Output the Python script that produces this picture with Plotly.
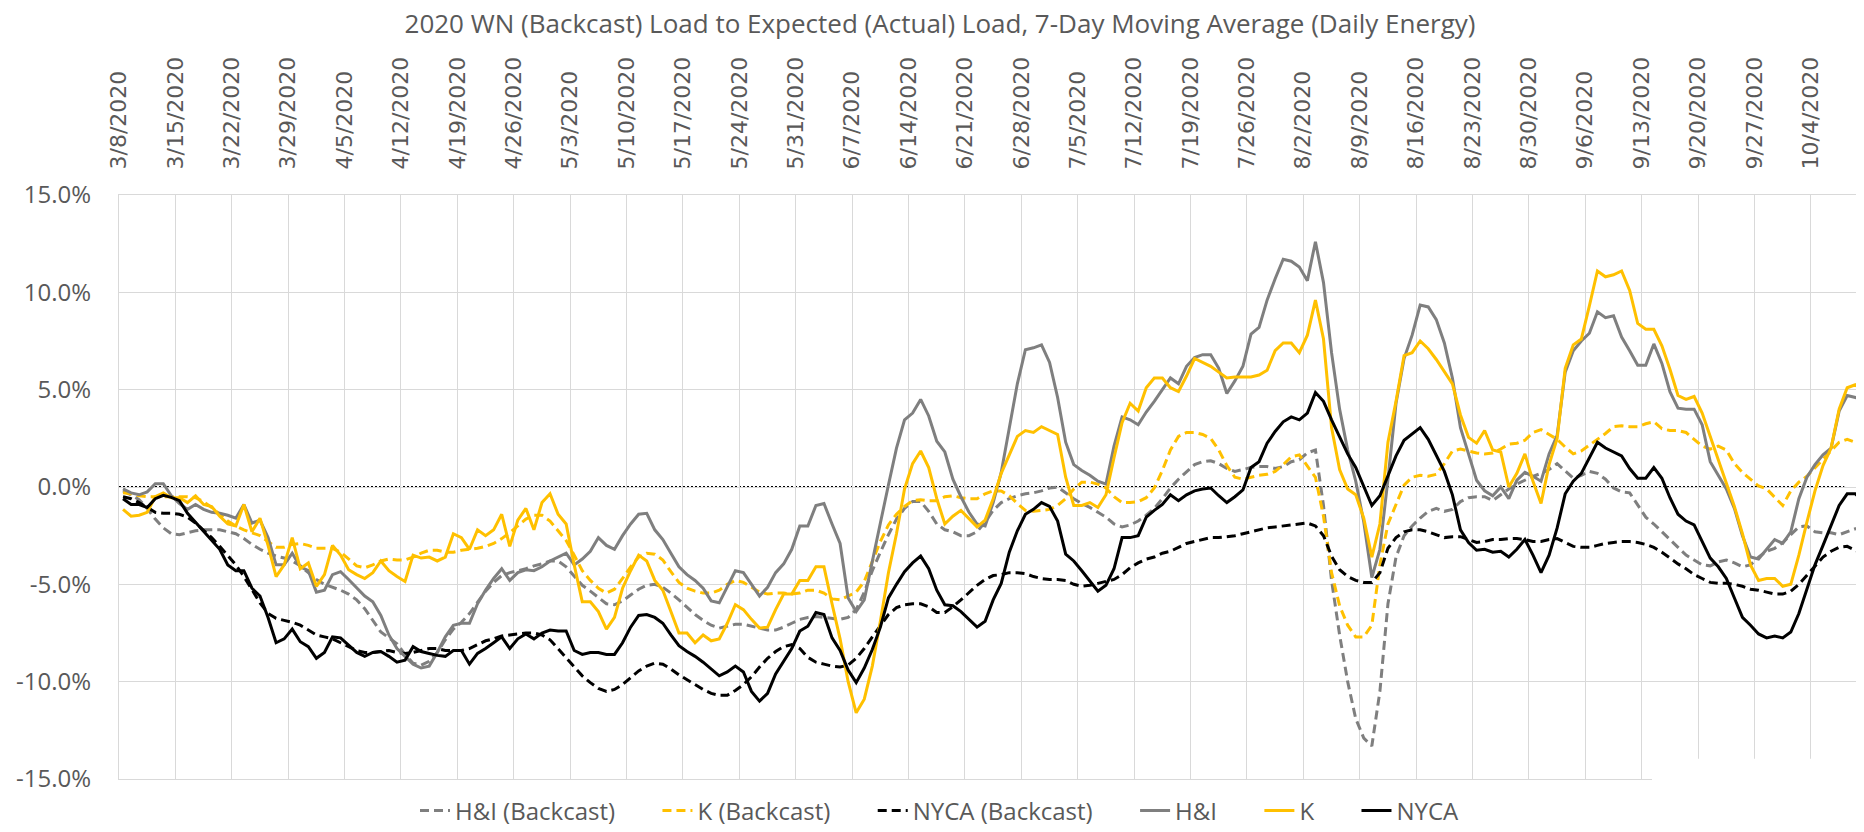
import pandas as pd
import plotly.graph_objects as go

TITLE = "2020 WN (Backcast) Load to Expected (Actual) Load, 7-Day Moving Average (Daily Energy)"

# daily dates 3/8/2020 .. 10/10/2020
DATES = pd.date_range("2020-03-08", periods=217, freq="D")

Y_TICKS = [-15, -10, -5, 0, 5, 10, 15]
Y_TICK_LABELS = ["-15.0%", "-10.0%", "-5.0%", "0.0%", "5.0%", "10.0%", "15.0%"]

HI_BACKCAST = [
    -0.2, -0.4, -0.65, -1.1, -1.65, -2.1, -2.4, -2.45, -2.35, -2.25,
    -2.2, -2.2, -2.2, -2.3, -2.4, -2.65, -2.95, -3.2, -3.4, -3.55,
    -3.65, -3.8, -4.05, -4.4, -4.75, -5.0, -5.15, -5.3, -5.5, -5.8,
    -6.25, -6.85, -7.45, -7.75, -8.05, -8.6, -9.05, -9.15, -8.95, -8.5,
    -7.85, -7.3, -6.95, -6.5, -5.9, -5.35, -4.9, -4.55, -4.4, -4.3,
    -4.2, -4.05, -3.95, -3.8, -3.8, -4.1, -4.6, -5.05, -5.35, -5.7,
    -6.0, -6.05, -5.85, -5.55, -5.25, -5.05, -5.0, -5.15, -5.45, -5.8,
    -6.2, -6.55, -6.85, -7.1, -7.25, -7.15, -7.05, -7.05, -7.15, -7.25,
    -7.35, -7.35, -7.2, -7.0, -6.8, -6.7, -6.65, -6.7, -6.75, -6.8,
    -6.7, -6.3, -5.4, -4.3, -3.35, -2.45, -1.65, -1.1, -0.75, -0.75,
    -1.25, -1.9, -2.2, -2.3, -2.5, -2.5, -2.3, -1.8, -1.2, -0.8,
    -0.6, -0.45, -0.35, -0.3, -0.2, -0.05, 0.0, -0.3, -0.6, -0.85,
    -1.05, -1.3, -1.55, -1.9, -2.05, -1.95, -1.75, -1.45, -1.1, -0.6,
    -0.05, 0.4, 0.8, 1.15, 1.3, 1.35, 1.2, 0.95, 0.8, 0.9,
    1.0, 1.05, 1.05, 0.95, 1.05, 1.3, 1.4, 1.75, 1.9, -0.95,
    -4.8, -7.6, -10.0, -11.9, -12.9, -13.3, -10.5, -6.0, -3.6, -2.5,
    -2.0, -1.6, -1.25, -1.1, -1.25, -1.15, -0.75, -0.55, -0.5, -0.5,
    -0.7, -0.4, -0.1, 0.15, 0.35, 0.55, 0.7, 0.9, 1.2, 0.85,
    0.45, 0.6, 0.8, 0.7, 0.4, -0.05, -0.25, -0.3, -0.9, -1.55,
    -1.9, -2.3, -2.7, -3.15, -3.5, -3.75, -4.0, -4.05, -3.85, -3.75,
    -3.9, -4.1, -4.0, -3.6, -3.3, -3.15, -2.85, -2.45, -2.05, -2.0,
    -2.3, -2.35, -2.35, -2.45, -2.3, -2.15, -2.15,
]

K_BACKCAST = [
    -0.3, -0.35, -0.45, -0.5, -0.5, -0.5, -0.5, -0.5, -0.5, -0.55,
    -0.75, -1.05, -1.4, -1.75, -2.0, -2.2, -2.35, -2.5, -2.8, -3.1,
    -3.1, -2.95, -2.9, -3.0, -3.15, -3.15, -3.15, -3.35, -3.7, -4.05,
    -4.15, -4.0, -3.8, -3.7, -3.75, -3.75, -3.6, -3.4, -3.25, -3.25,
    -3.35, -3.35, -3.25, -3.2, -3.15, -3.05, -2.9, -2.65, -2.35, -2.0,
    -1.65, -1.45, -1.45, -1.75, -2.25, -2.75, -3.5, -4.3, -4.8, -5.2,
    -5.45, -5.25, -4.7, -4.1, -3.6, -3.4, -3.45, -3.75, -4.35, -4.9,
    -5.2, -5.35, -5.45, -5.45, -5.3, -5.0, -4.8, -4.9, -5.15, -5.4,
    -5.5, -5.45, -5.45, -5.5, -5.45, -5.3, -5.3, -5.45, -5.75, -5.8,
    -5.6, -5.4, -4.85, -3.85, -2.8, -1.95, -1.4, -1.0, -0.7, -0.65,
    -0.7, -0.7, -0.5, -0.45, -0.55, -0.6, -0.6, -0.35, -0.2, -0.2,
    -0.45, -0.85, -1.2, -1.25, -1.2, -1.15, -0.95, -0.6, -0.1, 0.25,
    0.25, 0.15, -0.05, -0.5, -0.8, -0.8, -0.75, -0.55, -0.05, 0.85,
    1.9, 2.6, 2.8, 2.8, 2.7, 2.5, 1.9, 1.1, 0.5, 0.4,
    0.5, 0.6, 0.65, 0.8, 1.15, 1.55, 1.65, 1.1, 0.5, -1.5,
    -4.4, -6.1, -7.1, -7.7, -7.7, -7.1, -4.0, -1.9, -0.9, 0.1,
    0.5, 0.6, 0.55, 0.65, 1.2, 1.85, 1.95, 1.85, 1.75, 1.7,
    1.75, 1.95, 2.2, 2.25, 2.4, 2.8, 2.95, 2.7, 2.45, 2.05,
    1.7, 1.85, 2.15, 2.45, 2.75, 3.1, 3.15, 3.1, 3.1, 3.25,
    3.35, 3.0, 2.9, 2.9, 2.8, 2.45, 2.1, 1.95, 2.1, 1.9,
    1.2, 0.75, 0.4, 0.05, -0.1, -0.5, -0.95, -0.2, 0.25, 0.55,
    1.0, 1.45, 1.9, 2.3, 2.45, 2.3, 2.1,
]

NYCA_BACKCAST = [
    -0.5, -0.6, -0.8, -1.05, -1.3, -1.35, -1.35, -1.4, -1.55, -1.85,
    -2.2, -2.6, -3.05, -3.5, -4.0, -4.6, -5.25, -5.95, -6.5, -6.75,
    -6.85, -6.95, -7.1, -7.35, -7.6, -7.7, -7.8, -8.0, -8.2, -8.4,
    -8.5, -8.5, -8.45, -8.4, -8.5, -8.55, -8.5, -8.4, -8.3, -8.3,
    -8.4, -8.4, -8.4, -8.3, -8.1, -7.9, -7.8, -7.65, -7.6, -7.55,
    -7.5, -7.5, -7.6, -7.85, -8.3, -8.8, -9.25, -9.7, -10.05, -10.35,
    -10.5, -10.4, -10.15, -9.8, -9.45, -9.2, -9.05, -9.1, -9.35, -9.65,
    -9.9, -10.15, -10.4, -10.6, -10.7, -10.7, -10.45, -10.15, -9.75, -9.25,
    -8.8, -8.45, -8.2, -8.1, -8.3, -8.75, -9.0, -9.1, -9.2, -9.25,
    -9.15, -8.8, -8.3, -7.7, -7.1, -6.55, -6.2, -6.05, -6.0, -6.0,
    -6.15, -6.45, -6.45, -6.15, -5.8, -5.4, -5.05, -4.75, -4.55, -4.5,
    -4.4, -4.4, -4.45, -4.6, -4.7, -4.75, -4.75, -4.8, -5.0, -5.1,
    -5.05, -4.95, -4.85, -4.75, -4.5, -4.15, -3.9, -3.7, -3.6, -3.4,
    -3.3, -3.1, -2.9, -2.8, -2.7, -2.6, -2.6, -2.55, -2.5, -2.4,
    -2.3, -2.2, -2.1, -2.05, -2.0, -1.95, -1.9, -1.85, -2.0, -2.5,
    -3.55, -4.25, -4.6, -4.8, -4.9, -4.9, -4.4, -3.15, -2.6, -2.3,
    -2.2, -2.2, -2.3, -2.45, -2.6, -2.55, -2.55, -2.7, -2.85, -2.8,
    -2.7, -2.7, -2.65, -2.65, -2.7, -2.8, -2.8, -2.7, -2.65, -2.85,
    -3.05, -3.1, -3.1, -3.0, -2.9, -2.85, -2.8, -2.8, -2.85, -2.95,
    -3.1, -3.35, -3.65, -3.95, -4.2, -4.5, -4.7, -4.9, -4.95, -4.95,
    -5.0, -5.1, -5.25, -5.3, -5.4, -5.5, -5.5, -5.35, -5.0, -4.55,
    -4.05, -3.6, -3.3, -3.1, -3.05, -3.25, -3.45,
]

HI_ACTUAL = [
    -0.1, -0.3, -0.4, -0.25, 0.17, 0.17, -0.45, -0.85, -1.15, -0.9,
    -1.15, -1.3, -1.35, -1.45, -1.6, -0.9, -1.85, -1.7, -2.6, -4.0,
    -4.0, -3.4, -4.1, -4.3, -5.4, -5.3, -4.5, -4.35, -4.75, -5.2,
    -5.6, -5.9, -6.6, -7.6, -8.3, -8.7, -9.1, -9.3, -9.2, -8.5,
    -7.7, -7.1, -7.0, -7.0, -6.0, -5.3, -4.7, -4.2, -4.8, -4.4,
    -4.25, -4.3, -4.1, -3.8, -3.6, -3.4, -4.0, -3.7, -3.3, -2.6,
    -3.0, -3.2, -2.5, -1.9, -1.4, -1.35, -2.2, -2.7, -3.4, -4.1,
    -4.5, -4.8, -5.2, -5.85, -5.95, -5.1, -4.3, -4.4, -5.0, -5.6,
    -5.15, -4.4, -3.95, -3.2, -2.0, -2.0, -0.95, -0.85, -1.9, -2.9,
    -5.7, -6.4, -5.8, -3.9, -1.85, 0.1, 2.0, 3.45, 3.8, 4.5,
    3.65, 2.35, 1.8, 0.4, -0.5, -1.3, -1.9, -2.0, -0.8, 0.75,
    3.1, 5.3, 7.05, 7.15, 7.3, 6.4, 4.6, 2.3, 1.15, 0.85,
    0.6, 0.3, 0.15, 2.1, 3.6, 3.45, 3.2, 3.85, 4.4, 5.0,
    5.6, 5.3, 6.2, 6.65, 6.8, 6.8, 6.1, 4.8, 5.45, 6.2,
    7.85, 8.2, 9.6, 10.7, 11.7, 11.6, 11.3, 10.6, 12.6, 10.5,
    6.9, 4.0, 1.9, 0.3, -1.8, -4.65, -3.2, 0.4, 4.3, 6.6,
    7.8, 9.35, 9.25, 8.6, 7.4, 5.6, 3.05, 1.7, 0.35, -0.2,
    -0.45, 0.0, -0.6, 0.35, 0.75, 0.55, 0.3, 1.7, 2.65, 5.9,
    7.0, 7.5, 7.9, 9.0, 8.7, 8.8, 7.7, 7.0, 6.25, 6.25,
    7.35, 6.35, 4.9, 4.05, 4.0, 4.0, 3.2, 1.3, 0.6, -0.1,
    -1.1, -2.5, -3.6, -3.7, -3.2, -2.7, -2.9, -2.3, -0.6, 0.5,
    1.15, 1.65, 2.0, 3.9, 4.7, 4.6, 4.5,
]

K_ACTUAL = [
    -1.15, -1.5, -1.45, -1.3, -0.5, -0.3, -0.55, -0.55, -0.8, -0.45,
    -0.9, -1.0, -1.5, -1.9, -2.0, -0.9, -2.3, -1.6, -3.0, -4.6,
    -4.0, -2.6, -4.2, -3.9, -5.1, -4.5, -3.0, -3.5, -4.25, -4.5,
    -4.7, -4.4, -3.8, -4.3, -4.6, -4.85, -3.5, -3.65, -3.6, -3.8,
    -3.6, -2.4, -2.6, -3.2, -2.2, -2.5, -2.2, -1.4, -3.05, -1.7,
    -1.1, -2.2, -0.8, -0.35, -1.4, -1.9, -4.0, -5.9, -5.9, -6.4,
    -7.3, -6.7, -5.2, -4.3, -3.5, -3.8, -4.8, -5.3, -6.4, -7.5,
    -7.5, -8.0, -7.6, -7.9, -7.8, -7.0, -6.05, -6.3, -6.8, -7.25,
    -7.2, -6.3, -5.5, -5.5, -4.8, -4.8, -4.1, -4.1, -6.0, -7.8,
    -10.0, -11.6, -10.9, -9.2, -6.9, -4.4, -2.4, -0.1, 1.2, 1.85,
    1.0, -0.6, -1.9, -1.5, -1.2, -1.65, -2.05, -1.7, -0.6, 0.7,
    1.7, 2.6, 2.9, 2.8, 3.1, 2.9, 2.7, 0.5, -0.95, -0.95,
    -0.8, -1.05, -0.4, 1.5, 3.3, 4.3, 3.9, 5.1, 5.6, 5.6,
    5.1, 4.9, 5.7, 6.6, 6.4, 6.2, 5.9, 5.6, 5.65, 5.65,
    5.65, 5.75, 6.0, 7.0, 7.4, 7.4, 6.9, 7.8, 9.6, 7.6,
    3.05, 0.9, -0.1, -0.4, -1.6, -3.6, -1.9, 2.3, 4.4, 6.75,
    6.9, 7.5, 7.1, 6.55, 5.95, 5.3, 3.7, 2.55, 2.25, 2.9,
    1.9, 1.8, 0.0, 0.7, 1.7, 0.3, -0.85, 1.15, 2.5, 6.1,
    7.3, 7.6, 9.3, 11.1, 10.8, 10.9, 11.1, 10.1, 8.4, 8.1,
    8.1, 7.25, 6.05, 4.7, 4.5, 4.65, 3.8, 2.6, 1.5, 0.2,
    -1.0, -2.4, -4.0, -4.8, -4.7, -4.7, -5.1, -5.0, -3.5, -1.8,
    -0.2, 1.1, 2.0, 4.0, 5.1, 5.25, 4.95,
]

NYCA_ACTUAL = [
    -0.6, -0.9, -0.9, -1.05, -0.6, -0.43, -0.53, -0.7, -1.35, -1.8,
    -2.25, -2.7, -3.2, -4.0, -4.3, -4.3, -5.2, -5.6, -6.7, -8.0,
    -7.8, -7.3, -7.95, -8.2, -8.8, -8.5, -7.7, -7.75, -8.1, -8.5,
    -8.7, -8.5, -8.45, -8.7, -9.0, -8.9, -8.2, -8.45, -8.55, -8.65,
    -8.7, -8.4, -8.4, -9.1, -8.55, -8.3, -8.0, -7.7, -8.3, -7.8,
    -7.55, -7.8, -7.5, -7.35, -7.4, -7.4, -8.4, -8.6, -8.5, -8.5,
    -8.6, -8.6, -8.0, -7.2, -6.6, -6.55, -6.7, -7.0, -7.6, -8.15,
    -8.45, -8.7, -9.0, -9.35, -9.7, -9.5, -9.2, -9.5, -10.5, -11.0,
    -10.6, -9.6, -8.95, -8.3, -7.4, -7.15, -6.45, -6.55, -7.75, -8.4,
    -9.4, -10.05, -9.3, -8.35, -7.2, -5.7, -5.0, -4.35, -3.9, -3.55,
    -4.2, -5.3, -6.05, -6.1, -6.4, -6.8, -7.2, -6.9, -5.8, -4.95,
    -3.35, -2.25, -1.4, -1.15, -0.8, -1.0, -1.75, -3.45, -3.8, -4.3,
    -4.85, -5.35, -5.05, -4.2, -2.6, -2.6, -2.5, -1.55, -1.2, -0.9,
    -0.4, -0.7, -0.4, -0.2, -0.1, -0.05, -0.45, -0.8, -0.5, -0.15,
    1.0, 1.3, 2.25, 2.85, 3.35, 3.6, 3.45, 3.8, 4.85, 4.4,
    3.45, 2.55, 1.7, 1.0, 0.0, -0.95, -0.45, 0.6, 1.6, 2.4,
    2.75, 3.05, 2.45, 1.6, 0.8, -0.4, -2.2, -2.85, -3.25, -3.2,
    -3.35, -3.3, -3.6, -3.2, -2.7, -3.5, -4.4, -3.5, -2.1, -0.35,
    0.3, 0.7, 1.5, 2.3, 2.0, 1.8, 1.6, 0.95, 0.45, 0.45,
    1.0, 0.45, -0.55, -1.4, -1.75, -1.95, -2.8, -3.65, -4.1, -4.7,
    -5.7, -6.7, -7.1, -7.55, -7.75, -7.65, -7.75, -7.45, -6.5, -5.3,
    -4.0, -3.0, -2.0, -0.95, -0.35, -0.35, -0.7,
]

GRAY = "#7F7F7F"
GOLD = "#FFC000"
BLACK = "#000000"
TEXT = "#595959"
GRID = "#D9D9D9"
DASH = "9px,5px"
GAP = "\u00a0" * 6  # spacing after legend entries

SERIES = [
    ("H&I (Backcast)", HI_BACKCAST, GRAY, DASH),
    ("K (Backcast)", K_BACKCAST, GOLD, DASH),
    ("NYCA (Backcast)", NYCA_BACKCAST, BLACK, DASH),
    ("H&I", HI_ACTUAL, GRAY, "solid"),
    ("K", K_ACTUAL, GOLD, "solid"),
    ("NYCA", NYCA_ACTUAL, BLACK, "solid"),
]

fig = go.Figure()
for i, (name, vals, color, dash) in enumerate(SERIES):
    label = name + (GAP if i < len(SERIES) - 1 else "")
    fig.add_trace(go.Scatter(
        x=DATES, y=vals, name=label, mode="lines",
        line=dict(color=color, width=3, dash=dash),
        xperiod=86400000, xperiodalignment="middle",
    ))

W, H = 1864, 832
fig.update_layout(
    width=W, height=H,
    margin=dict(l=111, r=5, t=187, b=61, autoexpand=False),
    paper_bgcolor="white", plot_bgcolor="white",
    title=dict(text=TITLE, x=0.5, xref="container", xanchor="center",
               y=1 - 7 / H, yref="container", yanchor="top",
               font=dict(family="Open Sans", size=26, color=TEXT)),
    xaxis=dict(type="date", side="top", automargin=False,
               range=["2020-03-08", "2020-10-10 23:00"],
               tick0="2020-03-08", dtick=604800000,
               tickformat="%-m/%-d/%Y", tickangle=-90,
               tickfont=dict(family="DejaVu Sans", size=22, color=TEXT),
               showgrid=True, gridcolor=GRID, gridwidth=1.3,
               showline=True, mirror=True, linecolor=GRID, linewidth=1.3,
               ticks="", ticklabelstandoff=20, zeroline=False),
    yaxis=dict(range=[-15, 15], tickvals=Y_TICKS, ticktext=Y_TICK_LABELS,
               automargin=False,
               tickfont=dict(family="Open Sans", size=24, color=TEXT),
               showgrid=True, gridcolor=GRID, gridwidth=1.3,
               showline=True, mirror=True, linecolor=GRID, linewidth=1.3,
               ticks="", ticklabelstandoff=22, zeroline=False),
    legend=dict(orientation="h", x=0.5, xref="container", xanchor="center",
                y=1 - 803 / H, yref="container", yanchor="middle",
                font=dict(family="Open Sans", size=24, color=TEXT),
                bgcolor="rgba(0,0,0,0)"),
    showlegend=True,
    shapes=[
        dict(type="line", xref="paper", yref="y", x0=0, x1=1, y0=0, y1=0,
             line=dict(color="white", width=2), layer="between"),
        dict(type="line", xref="paper", yref="y", x0=0, x1=0.987, y0=0, y1=0,
             line=dict(color=BLACK, width=2, dash="2px,2px"), layer="between"),
        dict(type="rect", xref="paper", yref="paper", x0=0.877, x1=1.02,
             y0=-0.02, y1=0.0347, fillcolor="white",
             line=dict(width=0), layer="above"),
    ],
)

fig.write_html("out.html")
